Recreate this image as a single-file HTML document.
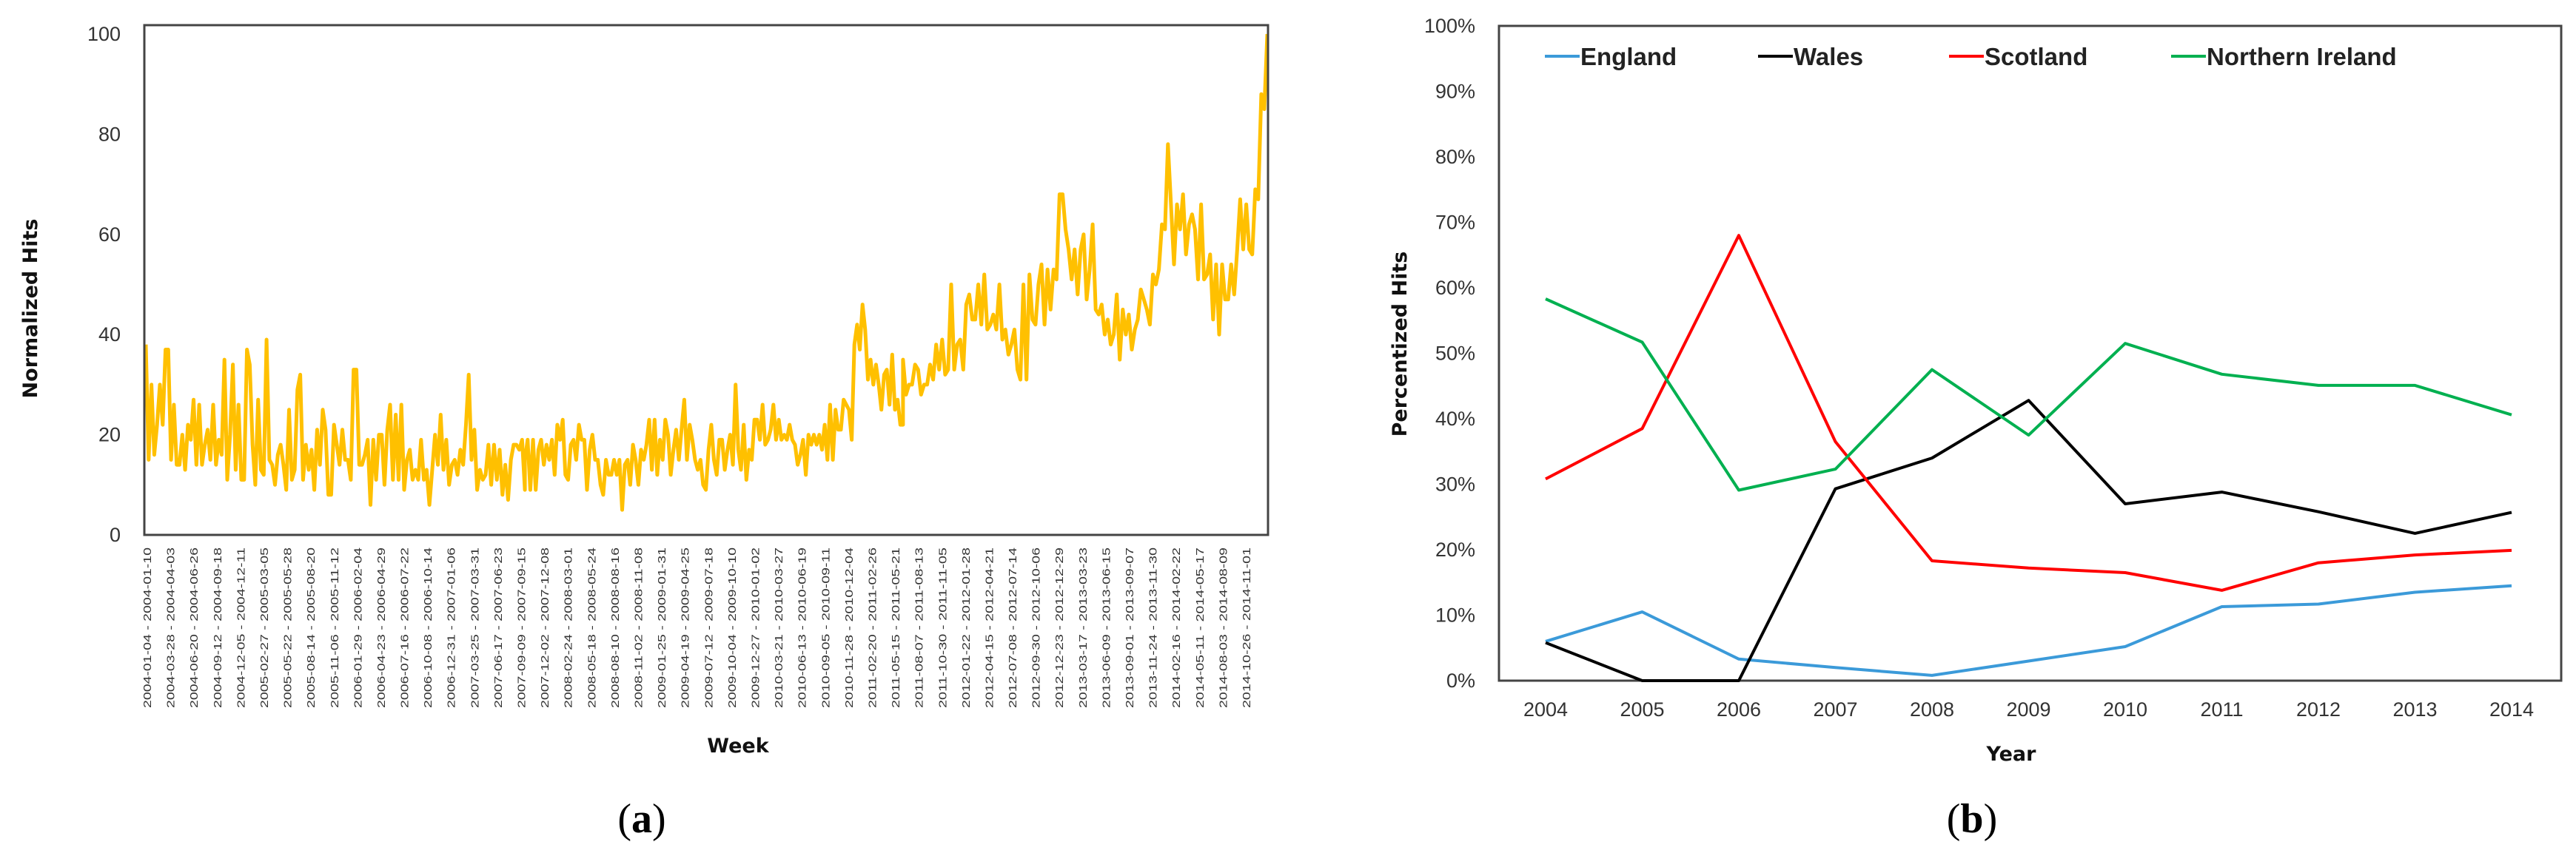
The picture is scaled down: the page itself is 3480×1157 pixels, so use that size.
<!DOCTYPE html>
<html><head><meta charset="utf-8">
<style>
html,body{margin:0;padding:0;background:#fff;}
svg{display:block;}
.tick{font-family:"Liberation Sans Narrow","Liberation Sans",sans-serif;font-size:27px;fill:#333;}
.date{font-family:"Liberation Sans Narrow","Liberation Sans",sans-serif;font-size:15px;fill:#333;}
.axt{font-family:"DejaVu Sans","Liberation Sans",sans-serif;font-weight:bold;font-size:27px;fill:#111;}
.leg{font-family:"Liberation Sans Narrow","Liberation Sans",sans-serif;font-weight:bold;font-size:33px;fill:#222;}
.cap{font-family:"Liberation Serif",serif;font-size:56px;fill:#000;}
</style></head>
<body>
<svg id="fig" width="3480" height="1157" viewBox="0 0 3480 1157" xmlns="http://www.w3.org/2000/svg">
<g id="chartA"></g>
<g id="chartB"></g>
<text class="cap" x="867" y="1125" text-anchor="middle">(<tspan font-weight="bold">a</tspan>)</text>
<text class="cap" x="2664" y="1125" text-anchor="middle">(<tspan font-weight="bold">b</tspan>)</text>
</svg>
<script>
// ---------- Chart A data ----------
const segStartWeek = [0, 194.5, 388.5, 575.4];
const hitsSeg1 = [38,15,30,16,22,30,22,37,37,15,26,14,14,20,13,22,19,27,14,26,14,18,21,15,26,14,19,16,35,11,20,34,13,26,11,11,37,34,18,10,27,13,12,39,15,14,10,16,18,14,9,25,11,13,29,32,11,18,13,17,9,21,14,25,21,8,8,22,18,14,21,15,15,11,33,33,14,14,16,19,6,19,11,20,20,10,21,26,11,24,11,26,9,15,17,11,13,11,19,11,13,6,13,20,14,24,13,19,10,14,15,12,17,14,22,32,15,21,9,13,11,12,18,10,18,11,17,8,14,7,15,18,18,17,19,9];
const hitsSeg2 = [15,19,9,19,9,17,19,14,18,15,19,12,22,19,23,12,11,18,19,15,22,19,19,9,17,20,15,15,10,8,15,12,12,15,12,15,5,14,15,10,18,15,10,17,15,18,23,13,23,12,19,15,23,20,12,17,21,15,21,27,15,22,19,15,13,15,10,9,17,22,15,12,19,19,13,17,20,14,30,17,13,22,11,17,15,23,23,19,26,18,19,21,26,19,23,19,20,19,22,19,18,14,16,19,12,20,18,20,18,20,17,22,15,26,15,25,21,21,27,26,25,19,38,42,37,46,41,31,35,30,34,30,25,32,33,26,36,25,27,22,22];
const hitsSeg3 = [35,28,30,30,34,33,28,30,30,34,31,38,33,39,32,33,50,33,38,39,33,46,48,43,43,50,42,52,41,42,44,41,50,39,41,36,38,41,33,31,50,31,52,43,42,50,54,42,53,45,53,51,68,68,61,57,51,57,48,57,60,47,53,62,45,44,46,40,43,38,40,48,35,45,40,44,37,41,43,49,47,45,42,52,50,53,62,61,78,66,54,66,61,68,56,62,64,61,51,66,51,52,56,43,54,40,54,47,47,54,48,57,67,57,66,57,56,69,67,88,85,100];
const yTicksA = [0,20,40,60,80,100];
const firstWeekStart = "2004-01-04";
const labelEveryWeeks = 12;
const labelCount = 48;

// ---------- Chart B data ----------
const years = [2004,2005,2006,2007,2008,2009,2010,2011,2012,2013,2014];
const england = [6,10.5,3.3,2,0.8,3,5.2,11.3,11.7,13.5,14.5];
const wales = [5.8,0,0,29.3,34,42.8,27,28.8,25.8,22.5,25.7];
const scotland = [30.8,38.5,68,36.5,18.3,17.2,16.5,13.8,18,19.2,19.9];
const nireland = [58.3,51.7,29.1,32.3,47.5,37.5,51.5,46.8,45.1,45.1,40.6];
const yTicksB = [0,10,20,30,40,50,60,70,80,90,100];

const NS = "http://www.w3.org/2000/svg";
function mk(tag, attrs, parent, txt){
  const e = document.createElementNS(NS, tag);
  for (const k in attrs) e.setAttribute(k, attrs[k]);
  if (txt !== undefined) e.textContent = txt;
  parent.appendChild(e);
  return e;
}

// ===== Chart A =====
(function(){
  const g = document.getElementById('chartA');
  const L=195, R=1713, T=34, B=723;
  const xw = w => 197 + 2.633*w;
  const yv = v => B - (B-46)*v/100;
  const path=[];
  const segs=[hitsSeg1,hitsSeg2,hitsSeg3];
  segs.forEach((s,si)=>{
    const a=segStartWeek[si], b=segStartWeek[si+1];
    s.forEach((v,i)=>{
      const w = a + (b-a)*i/(s.length-1);
      path.push((path.length?'L':'M')+xw(w).toFixed(1)+','+yv(v).toFixed(1));
    });
  });
  const line = mk('path',{d:path.join(' '),fill:'none',stroke:'#FFC000','stroke-width':5,'stroke-linejoin':'round'},g);
  
  
  const fr = mk('rect',{x:L,y:T,width:R-L,height:B-T,fill:'none',stroke:'#444','stroke-width':3},g);
  
  
  yTicksA.forEach(v=>{
    const t = mk('text',{class:'tick',x:163,y:yv(v)+9,'text-anchor':'end'},g,String(v));
    
    
  });
  const d0 = new Date(firstWeekStart+"T00:00:00Z");
  const fmt = d => d.toISOString().slice(0,10);
  for(let i=0;i<labelCount;i++){
    const s = new Date(d0.getTime() + i*labelEveryWeeks*7*86400000);
    const e = new Date(s.getTime() + 6*86400000);
    const x = xw(i*labelEveryWeeks)+2+5;
    const t = mk('text',{class:'date',x:x,y:740,'text-anchor':'end',transform:'rotate(-90 '+x+' 740)',textLength:217,lengthAdjust:'spacingAndGlyphs'},g,fmt(s)+' - '+fmt(e));
    
    
  }
  const yt = mk('text',{class:'axt',x:50,y:417,'text-anchor':'middle',transform:'rotate(-90 50 417)'},g,'Normalized Hits');
  
  
  const xt = mk('text',{class:'axt',x:997,y:1017,'text-anchor':'middle'},g,'Week');
  
  
})();

// ===== Chart B =====
(function(){
  const g = document.getElementById('chartB');
  const L=2025, R=3460, T=35, B=920;
  const xi = i => 2088 + (3393-2088)*i/(years.length-1);
  const yv = v => B - (B-T)*v/100;
  const fr = mk('rect',{x:L,y:T,width:R-L,height:B-T,fill:'none',stroke:'#444','stroke-width':3},g);
  
  
  yTicksB.forEach(v=>{
    const t = mk('text',{class:'tick',x:1993,y:yv(v)+9,'text-anchor':'end'},g,v+'%');
    
    
  });
  years.forEach((yr,i)=>{
    const t = mk('text',{class:'tick',x:xi(i),y:968,'text-anchor':'middle'},g,String(yr));
    
    
  });
  const series=[['england',england,'#3B9AD9'],['wales',wales,'#000000'],['scotland',scotland,'#FF0000'],['northern-ireland',nireland,'#00B050']];
  series.forEach(([nm,arr,col])=>{
    const d = arr.map((v,i)=>(i?'L':'M')+xi(i).toFixed(1)+','+yv(v).toFixed(1)).join(' ');
    const p = mk('path',{d:d,fill:'none',stroke:col,'stroke-width':4,'stroke-linejoin':'round'},g);
    
    
  });
  const legs=[['England','#3B9AD9',2087],['Wales','#000000',2375],['Scotland','#FF0000',2633],['Northern Ireland','#00B050',2933]];
  legs.forEach(([lab,col,x])=>{
    const lg = mk('g',{},g);
    
    
    mk('line',{x1:x,y1:76,x2:x+47,y2:76,stroke:col,'stroke-width':4},lg);
    mk('text',{class:'leg',x:x+48,y:88},lg,lab);
  });
  const yt = mk('text',{class:'axt',x:1900,y:465,'text-anchor':'middle',transform:'rotate(-90 1900 465)'},g,'Percentized Hits');
  
  
  const xt = mk('text',{class:'axt',x:2717,y:1028,'text-anchor':'middle'},g,'Year');
  
  
})();
</script>
</body></html>
